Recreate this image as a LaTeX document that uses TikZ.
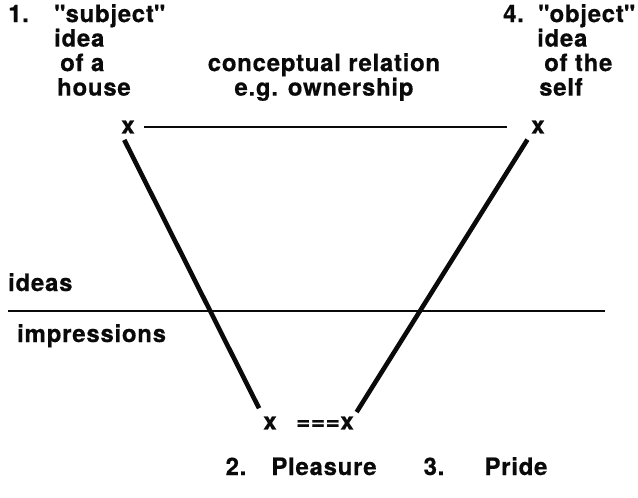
\documentclass[tikz,border=0pt]{standalone}
\usepackage{fontspec}
\setmainfont{TeX Gyre Heros}[LetterSpace=3, FakeBold=0.5]
\usetikzlibrary{
    calc,
    positioning
}
\definecolor{ink}{RGB}{10,10,10}
\tikzset{
    line cap=round,
    line join=round,
    label text/.style={
        font=\bfseries\fontsize{24}{24.5}\selectfont,
        text=ink,
        inner sep=0pt
    },
    xmark/.style={
        label text,
        inner sep=0pt
    },
    relation/.style={
        draw=ink,
        line width=2.6pt
    },
    boundary/.style={
        draw=ink,
        line width=2.8pt
    },
    passion/.style={
        draw=ink,
        line width=4.6pt
    }
}

\begin{document}
\begin{tikzpicture}[x=1pt, y=-1pt]

\useasboundingbox (0, 0) rectangle (638, 498);

% === TOP: the two ideas ===
\node[label text, anchor=base west] (num1) at (8, 22) {1.};
\node[label text, anchor=north west, align=left] (subjidea) at (54, 4)
    {\textquotedbl subject\textquotedbl\\idea\\\hspace{6pt}of a\\\hspace{3pt}house};

\node[label text, anchor=north, align=center] (relation) at (324, 53)
    {conceptual relation\\e.g. ownership};

\node[label text, anchor=base west] (num4) at (503, 22) {4.};
\node[label text, anchor=north west, align=left] (objidea) at (537, 4)
    {\hspace{1pt}\textquotedbl object\textquotedbl\\idea\\\hspace{7pt}of the\\\hspace{2pt}self};

% the x marks
\node[xmark] (xsubj) at (128, 127) {x};
\node[xmark] (xobj) at (538, 127) {x};
\node[xmark] (xpleasure) at (270, 423) {x};
\node[xmark, anchor=west] (xpride) at (296, 423) {===x};

% conceptual relation line
\draw[relation, shorten <=9pt, shorten >=24pt] (xsubj.east) -- (xobj.west);

% === MIDDLE: ideas / impressions ===
\coordinate (divleft) at (8, 311);
\coordinate (divright) at (605, 311);
\draw[boundary] (divleft) -- (divright);
\node[label text, anchor=base west] (ideas) at (8, 291) {ideas};
\node[label text, anchor=base west] (impressions) at (17, 342) {impressions};

% the two passions
\draw[passion, shorten <=7pt, shorten >=9pt] (xsubj.south west) -- (xpleasure.north west);
\draw[passion, shorten <=7pt, shorten >=5pt] (xobj.south west) -- (xpride.north east);

% === BOTTOM: labels ===
\node[label text, anchor=base] (num2) at (236, 475) {2.};
\node[label text, anchor=base] (pleasure) at (324, 475) {Pleasure};
\node[label text, anchor=base] (num3) at (434, 475) {3.};
\node[label text, anchor=base] (pride) at (516, 475) {Pride};

\end{tikzpicture}
\end{document}
